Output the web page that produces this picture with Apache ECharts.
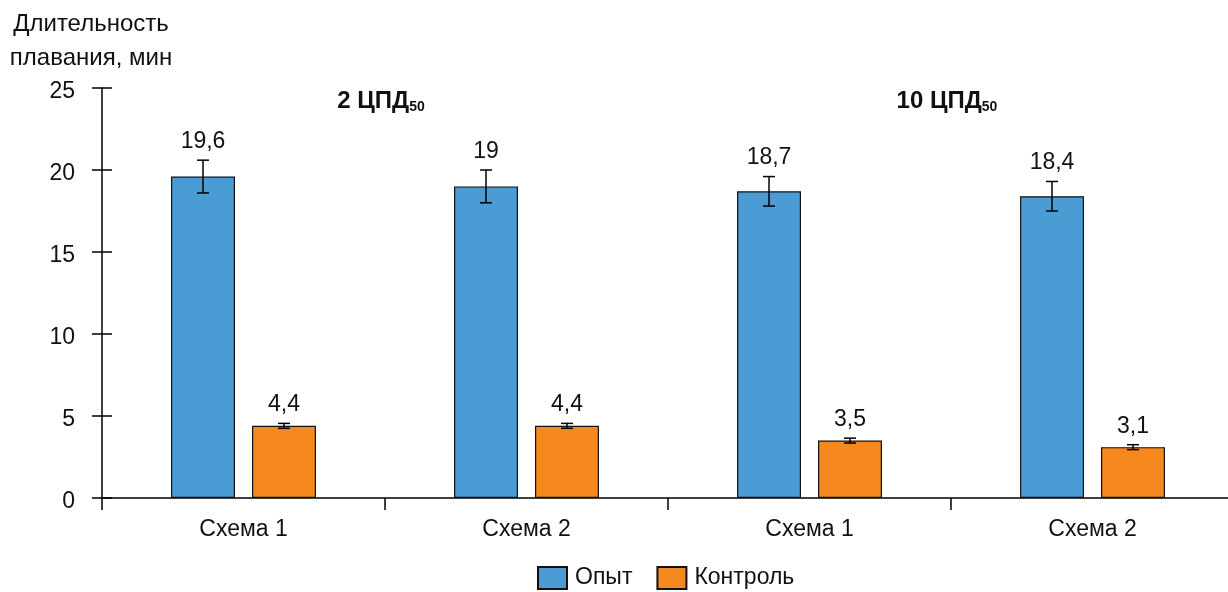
<!DOCTYPE html>
<html>
<head>
<meta charset="utf-8">
<script src="https://cdn.jsdelivr.net/npm/echarts@6/dist/echarts.min.js"></script>
<style>
  html, body { margin: 0; padding: 0; background: #fff; }
  #chart { width: 1228px; height: 592px; }
</style>
</head>
<body>
<div id="chart"></div>
<script>
// Swimming duration by scheme and dose
const categories = ['Схема 1', 'Схема 2', 'Схема 1', 'Схема 2'];
const experiment = [19.6, 19, 18.7, 18.4];
const experimentErr = [1.0, 1.0, 0.9, 0.9];
const control = [4.4, 4.4, 3.5, 3.1];
const controlErr = [0.15, 0.15, 0.15, 0.15];
const doseNames = ['2 ЦПД', '10 ЦПД'];
const doseSub = '50';
const doseFirstCategory = [0, 2];
const yTicks = [0, 5, 10, 15, 20, 25];

const FONT = "'Liberation Sans', Arial, sans-serif";
const BLUE = '#4b9bd5';
const ORANGE = '#f5891f';
const BAR_RATIO = 0.226;   // bar width as share of category band
const GAP_RATIO = 0.266;   // gap between paired bars as share of bar width

function fmt(v) { return String(v).replace('.', ','); }

// error bar + value label above it
function errorRenderer(values, errs, side) {
  return function (params, api) {
    const i = api.value(0);
    const v = values[i], e = errs[i];
    const band = api.size([1, 0])[0];
    const off = side * band * (BAR_RATIO + BAR_RATIO * GAP_RATIO) / 2;
    const top = api.coord([i, v + e]);
    const bot = api.coord([i, v - e]);
    const x = top[0] + off;
    const cap = 6;
    const ls = { stroke: '#000', lineWidth: 1.5 };
    return {
      type: 'group',
      children: [
        { type: 'line', shape: { x1: x, y1: top[1], x2: x, y2: bot[1] }, style: ls },
        { type: 'line', shape: { x1: x - cap, y1: top[1], x2: x + cap, y2: top[1] }, style: ls },
        { type: 'line', shape: { x1: x - cap, y1: bot[1], x2: x + cap, y2: bot[1] }, style: ls },
        { type: 'text', style: { text: fmt(v), x: x, y: top[1] - 7, align: 'center', verticalAlign: 'bottom',
            font: '23px ' + FONT, fill: '#111' } }
      ]
    };
  };
}

const option = {
  animation: false,
  textStyle: { fontFamily: FONT },
  grid: { left: 102, top: 88, width: 1132, height: 410, outerBoundsMode: 'none', containLabel: false },
  legend: {
    left: 537, top: 566, padding: 0,
    itemWidth: 29, itemHeight: 22, itemGap: 24,
    icon: 'rect',
    textStyle: { fontSize: 23, color: '#111', fontFamily: FONT, padding: [0, 0, 0, 3] },
    data: ['Опыт', 'Контроль']
  },
  xAxis: {
    type: 'category',
    data: categories,
    boundaryGap: true,
    axisLine: { lineStyle: { color: '#000', width: 1.5 } },
    axisTick: { show: true, length: 12, lineStyle: { color: '#000', width: 1.5 } },
    axisLabel: { fontSize: 23, color: '#111', margin: 20, fontFamily: FONT }
  },
  yAxis: [{
    type: 'value', min: 0, max: 25, interval: 5,
    name: 'Длительность\nплавания, мин',
    nameLocation: 'end', nameGap: 13,
    nameTextStyle: { fontSize: 24, color: '#111', align: 'center', lineHeight: 34, padding: [0, 22, 0, 0], fontFamily: FONT },
    axisLine: { show: true, lineStyle: { color: '#000', width: 1.5 } },
    axisTick: { show: true, length: 10, lineStyle: { color: '#000', width: 1.5 } },
    axisLabel: { color: '#111', margin: 27,
      formatter: v => yTicks.includes(v) ? '{t|' + v + '}' : '',
      rich: { t: { fontSize: 23, color: '#111', fontFamily: FONT, padding: [8, 0, 0, 0] } } },
    splitLine: { show: false }
  }, {
    type: 'value', min: 0, max: 25, interval: 5, position: 'left',
    axisLine: { show: false },
    axisTick: { show: true, inside: true, length: 10, lineStyle: { color: '#000', width: 1.5 } },
    axisLabel: { show: false },
    splitLine: { show: false }
  }],
  series: [
    {
      name: 'Опыт', type: 'bar', data: experiment,
      barWidth: (BAR_RATIO * 100) + '%', barGap: (GAP_RATIO * 100) + '%',
      itemStyle: { color: BLUE, borderColor: '#111', borderWidth: 1.2 }
    },
    {
      name: 'Контроль', type: 'bar', data: control,
      barWidth: (BAR_RATIO * 100) + '%', barGap: (GAP_RATIO * 100) + '%',
      itemStyle: { color: ORANGE, borderColor: '#111', borderWidth: 1.2 }
    },
    {
      type: 'custom', name: 'err1', silent: true, z: 5,
      data: experiment.map((v, i) => [i, v + experimentErr[i]]),
      encode: { x: 0, y: 1 },
      renderItem: errorRenderer(experiment, experimentErr, -1)
    },
    {
      type: 'custom', name: 'err2', silent: true, z: 5,
      data: control.map((v, i) => [i, v + controlErr[i]]),
      encode: { x: 0, y: 1 },
      renderItem: errorRenderer(control, controlErr, 1)
    },
    {
      // dose headings centred over each pair of schemes
      type: 'custom', name: 'dose', silent: true, z: 6,
      data: doseFirstCategory.map((c, k) => [c, 25, k]),
      encode: { x: 0, y: 1 },
      renderItem: function (params, api) {
        const p = api.coord([api.value(0), api.value(1)]);
        const band = api.size([1, 0])[0];
        const name = doseNames[api.value(2)];
        return {
          type: 'text',
          style: {
            text: '{a|' + name + '}{s|' + doseSub + '}',
            x: p[0] + band / 2 - 4, y: p[1] + 1,
            align: 'center', verticalAlign: 'top',
            rich: {
              a: { fontSize: 24, fontWeight: 'bold', fontFamily: FONT, fill: '#111', color: '#111' },
              s: { fontSize: 14, fontWeight: 'bold', fontFamily: FONT, fill: '#111', color: '#111', padding: [11, 0, 0, 0] }
            }
          }
        };
      }
    }
  ]
};

const chart = echarts.init(document.getElementById('chart'), null, { renderer: 'canvas' });
chart.setOption(option);
</script>
</body>
</html>
